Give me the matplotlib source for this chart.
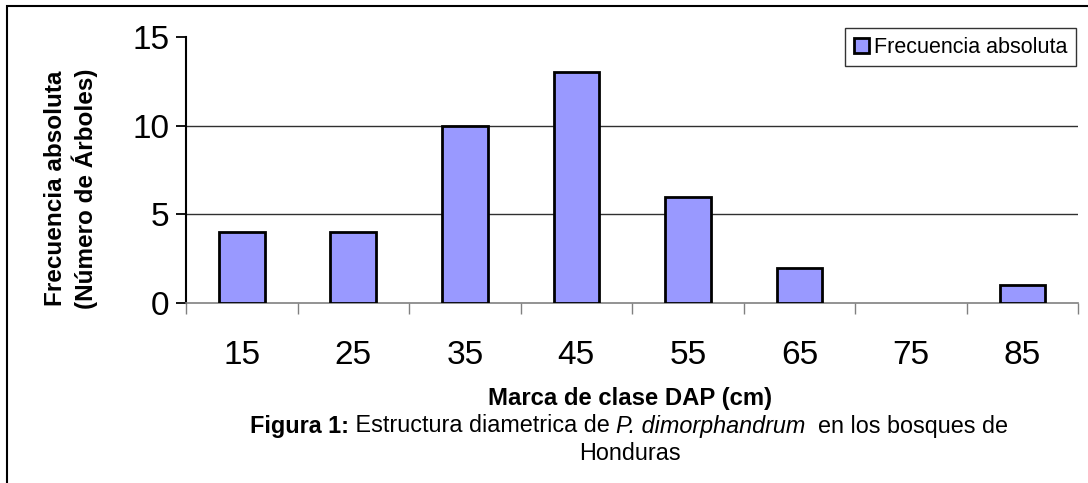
import matplotlib.pyplot as plt
from matplotlib.patches import Rectangle
import numpy as np

plt.rcParams["font.family"] = ["Liberation Sans", "DejaVu Sans"]

# datos
clases = ["15", "25", "35", "45", "55", "65", "75", "85"]
frecuencia = [4, 4, 10, 13, 6, 2, 0, 1]
y_ticks = [0, 5, 10, 15]

color_barra = "#9999FF"

fig = plt.figure(figsize=(10.88, 4.83), dpi=100)
ax = fig.add_axes([0.171, 0.3727, 0.82, 0.5507])

x = np.arange(len(clases))
barras = ax.bar(x, frecuencia, width=0.41, color=color_barra, edgecolor="black",
                linewidth=2, label="Frecuencia absoluta", zorder=3)
# Excel no dibuja nada para las barras en cero
for b, v in zip(barras, frecuencia):
    if v == 0:
        b.set_visible(False)

ax.set_xlim(-0.5, len(clases) - 0.5)
ax.set_ylim(0, 15)
ax.set_yticks(y_ticks)
ax.set_yticklabels([str(v) for v in y_ticks], fontsize=24)

# lineas de cuadricula (sin la de 15, como en Excel)
for v in y_ticks[1:-1]:
    ax.axhline(v, color="#303030", linewidth=1, zorder=1)

# eje x: ticks entre categorias, etiquetas en el centro
ax.set_xticks(np.arange(len(clases) + 1) - 0.5)
ax.set_xticklabels([])
ax.set_xticks(x, minor=True)
ax.set_xticklabels(clases, minor=True, fontsize=24)
ax.tick_params(axis="x", which="major", direction="out", length=8,
               color="#808080", width=1)
ax.tick_params(axis="x", which="minor", length=0, pad=27)
ax.tick_params(axis="y", direction="out", length=7, width=1.3, pad=5)

for s in ["top", "right"]:
    ax.spines[s].set_visible(False)
ax.spines["left"].set_linewidth(1.5)
ax.spines["bottom"].set_color("#808080")
ax.spines["bottom"].set_linewidth(1.2)

ax.set_ylabel("Frecuencia absoluta\n(Número de Árboles)", fontsize=17.5,
              fontweight="bold", linespacing=1.2)
ax.yaxis.set_label_coords(-0.099, 0.43)

fig.text(0.579, 1 - 398 / 483, "Marca de clase DAP (cm)", fontsize=17.2,
         fontweight="bold", ha="center", va="center")

# pie de figura: trozos con distinto estilo, centrados como un bloque
trozos = [("Figura 1:", "bold", "normal"),
          (" Estructura diametrica de ", "normal", "normal"),
          ("P. dimorphandrum", "normal", "italic"),
          ("  en los bosques de", "normal", "normal")]
y_pie = 1 - 426 / 483
textos = [fig.text(0, y_pie, t, fontsize=16.8, fontweight=w, style=s,
                   ha="left", va="center") for t, w, s in trozos]
renderer = fig.canvas.get_renderer()
anchos = [t.get_window_extent(renderer).width / fig.bbox.width for t in textos]
x0 = 0.578 - sum(anchos) / 2
for t, w in zip(textos, anchos):
    t.set_x(x0)
    x0 += w
fig.text(0.579, 1 - 453 / 483, "Honduras", fontsize=16.8,
         ha="center", va="center")

leg = ax.legend(loc="upper right", bbox_to_anchor=(1.0 - 2 / 892, 1.0 + 9 / 266),
                fontsize=15.5, frameon=True, fancybox=False, borderpad=0.4,
                handlelength=0.7, handleheight=0.7, handletextpad=0.25,
                borderaxespad=0)
leg.get_frame().set_edgecolor("black")
leg.get_frame().set_linewidth(1)

# borde exterior del grafico
fig.patches.append(Rectangle((7 / 1088, -0.1), 1.2, 1 - 6 / 483 + 0.1,
                             transform=fig.transFigure, fill=False,
                             edgecolor="black", linewidth=1.5, clip_on=False))

fig.savefig("out.png", dpi=100)
